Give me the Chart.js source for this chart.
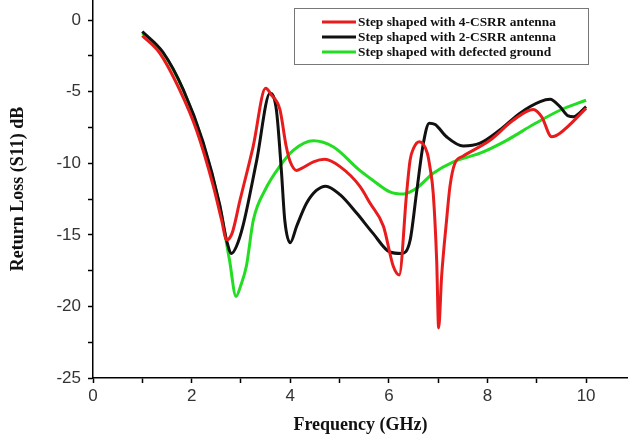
<!DOCTYPE html>
<html>
<head>
<meta charset="utf-8">
<script src="https://cdn.jsdelivr.net/npm/chart.js@4.4.1/dist/chart.umd.min.js"></script>
<style>
  html, body { margin: 0; padding: 0; background: #fff; }
  #wrap { width: 628px; height: 437px; }
</style>
</head>
<body>
<div id="wrap"><canvas id="s11" width="628" height="437"></canvas></div>
<script>
// return loss curves, frequency in GHz, S11 in dB
const freq4Csrr = [1.0, 1.35, 1.76, 2.1, 2.44, 2.61, 2.71, 2.82, 2.98, 3.25, 3.5, 3.62, 3.79, 3.92, 4.0, 4.13, 4.23, 4.47, 4.7, 5.01, 5.41, 5.62, 5.89, 6.09, 6.21, 6.36, 6.43, 6.5, 6.62, 6.78, 6.83, 6.9, 6.97, 7.01, 7.07, 7.17, 7.24, 7.34, 7.51, 8.05, 8.52, 8.93, 9.1, 9.3, 9.47, 10.0];
const s11_4Csrr = [-1.1, -2.3, -4.9, -7.7, -11.6, -14.0, -15.35, -14.9, -12.6, -8.8, -4.77, -5.24, -6.24, -8.85, -9.9, -10.5, -10.36, -9.9, -9.73, -10.24, -11.6, -12.8, -14.4, -17.2, -17.8, -12.1, -9.8, -8.96, -8.5, -9.3, -10.2, -12.1, -16.8, -21.5, -17.9, -14.0, -11.6, -10.0, -9.5, -8.4, -7.0, -6.24, -6.76, -8.15, -7.9, -6.17];

const freq2Csrr = [1.0, 1.42, 1.83, 2.23, 2.57, 2.71, 2.81, 2.91, 3.04, 3.32, 3.59, 3.72, 3.82, 3.89, 4.0, 4.13, 4.33, 4.53, 4.72, 5.01, 5.35, 5.68, 6.02, 6.26, 6.43, 6.56, 6.7, 6.82, 6.94, 7.17, 7.51, 7.85, 8.25, 8.66, 9.07, 9.27, 9.47, 9.64, 9.74, 10.0];
const s11_2Csrr = [-0.8, -2.25, -4.85, -8.5, -12.9, -15.4, -16.3, -15.8, -14.4, -9.8, -5.12, -6.3, -10.5, -14.0, -15.55, -14.4, -12.8, -11.9, -11.6, -12.2, -13.5, -14.9, -16.2, -16.3, -15.4, -12.1, -8.6, -7.2, -7.3, -8.15, -8.8, -8.6, -7.68, -6.5, -5.7, -5.54, -6.05, -6.7, -6.75, -6.05];

const freqDgs = [1.0, 1.42, 1.83, 2.23, 2.57, 2.77, 2.9, 3.0, 3.11, 3.25, 3.5, 3.79, 4.06, 4.47, 4.87, 5.41, 5.68, 6.02, 6.29, 6.56, 6.9, 7.31, 7.85, 8.39, 8.93, 9.47, 10.0];
const s11Dgs = [-0.9, -2.3, -4.9, -8.6, -13.0, -16.8, -19.3, -18.5, -17.2, -14.0, -11.8, -10.2, -9.1, -8.43, -8.85, -10.5, -11.2, -12.0, -12.15, -11.75, -10.7, -9.9, -9.3, -8.4, -7.3, -6.3, -5.6];

const seriesNames = ['Step shaped with 4-CSRR antenna', 'Step shaped with 2-CSRR antenna', 'Step shaped with defected ground'];
const seriesColors = ['#e81c1c', '#111111', '#22dd22'];

const xTicks = [0, 1, 2, 3, 4, 5, 6, 7, 8, 9, 10];
const yTicks = [-25, -22.5, -20, -17.5, -15, -12.5, -10, -7.5, -5, -2.5, 0];

function pts(xs, ys) {
  return xs.map((x, i) => ({ x: x, y: ys[i] }));
}

// boxed legend in the upper right corner
const boxLegend = {
  id: 'boxLegend',
  afterDraw(chart) {
    const ctx = chart.ctx;
    ctx.save();
    ctx.strokeStyle = '#777';
    ctx.lineWidth = 1;
    ctx.fillStyle = '#fff';
    ctx.fillRect(294.5, 8.5, 294, 56);
    ctx.strokeRect(294.5, 8.5, 294, 56);
    ctx.font = 'bold 13.4px "Liberation Serif", "Times New Roman", serif';
    ctx.textBaseline = 'middle';
    const rows = [22, 37, 52];
    chart.data.datasets.forEach((ds, i) => {
      ctx.strokeStyle = ds.borderColor;
      ctx.lineWidth = 3;
      ctx.beginPath();
      ctx.moveTo(322, rows[i]);
      ctx.lineTo(356, rows[i]);
      ctx.stroke();
      ctx.fillStyle = '#111';
      ctx.fillText(ds.label, 358, rows[i] + 0.5);
    });
    ctx.restore();
  }
};

const tickFont = { family: '"Liberation Sans", Arial, sans-serif', size: 17 };
const titleFont = { family: '"Liberation Serif", "Times New Roman", serif', size: 18, weight: 'bold' };

new Chart(document.getElementById('s11'), {
  type: 'line',
  data: {
    datasets: [
      { label: seriesNames[0], data: pts(freq4Csrr, s11_4Csrr), borderColor: seriesColors[0], order: 0 },
      { label: seriesNames[1], data: pts(freq2Csrr, s11_2Csrr), borderColor: seriesColors[1], order: 1 },
      { label: seriesNames[2], data: pts(freqDgs, s11Dgs), borderColor: seriesColors[2], order: 2 }
    ]
  },
  options: {
    responsive: false,
    animation: false,
    devicePixelRatio: 1,
    layout: { padding: 0 },
    elements: {
      line: { borderWidth: 3, cubicInterpolationMode: 'monotone', fill: false },
      point: { radius: 0 }
    },
    plugins: {
      legend: { display: false },
      tooltip: { enabled: false }
    },
    scales: {
      x: {
        type: 'linear',
        min: 0,
        max: 10.85,
        afterBuildTicks: s => { s.ticks = xTicks.map(v => ({ value: v })); },
        afterFit: s => { s.height = 59; s.paddingLeft = 0; s.paddingRight = 0; },
        border: { color: '#000', width: 1.5 },
        grid: { drawOnChartArea: false, tickLength: 5, tickColor: '#000', tickWidth: 1.5 },
        ticks: {
          autoSkip: false,
          maxRotation: 0,
          padding: 3,
          color: '#333',
          font: tickFont,
          callback: v => (v % 2 === 0 ? String(v) : '')
        },
        title: { display: true, text: 'Frequency (GHz)', color: '#111', font: titleFont, padding: { top: 0, bottom: 1 } }
      },
      y: {
        min: -25,
        max: 1.4,
        afterBuildTicks: s => { s.ticks = yTicks.map(v => ({ value: v })); },
        afterFit: s => { s.width = 93; s.paddingTop = 0; s.paddingBottom = 0; },
        border: { color: '#000', width: 1.5 },
        grid: { drawOnChartArea: false, tickLength: 5, tickColor: '#000', tickWidth: 1.5 },
        ticks: {
          autoSkip: false,
          padding: 7,
          color: '#333',
          font: tickFont,
          callback: v => (v % 5 === 0 ? String(v) : '')
        },
        title: { display: true, text: 'Return Loss (S11) dB', color: '#111', font: titleFont, padding: { top: 8, bottom: 0 } }
      }
    }
  },
  plugins: [boxLegend]
});
</script>
</body>
</html>
